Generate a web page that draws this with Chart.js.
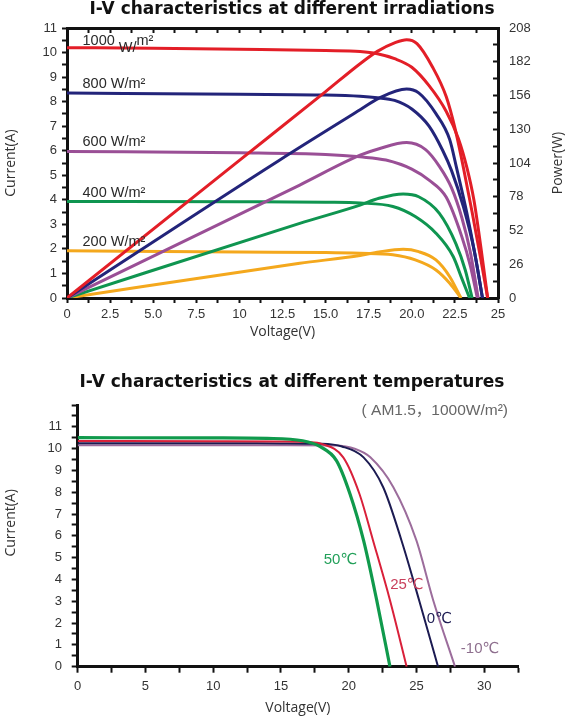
<!DOCTYPE html>
<html>
<head>
<meta charset="utf-8">
<script src="https://cdn.jsdelivr.net/npm/chart.js@4.4.1/dist/chart.umd.min.js"></script>
<style>
  html, body { margin: 0; padding: 0; background: #fff; }
  #wrap { position: relative; width: 567px; height: 720px; }
  .box { position: absolute; left: 0; width: 567px; }
  #irrBox { top: 0; height: 345px; }
  #tempBox { top: 345px; height: 375px; }
</style>
</head>
<body>
<div id="wrap">
  <div class="box" id="irrBox"><canvas id="irrChart" width="567" height="345"></canvas></div>
  <div class="box" id="tempBox"><canvas id="tempChart" width="567" height="375"></canvas></div>
</div>
<script>
// ---- top chart: I-V (A) and P-V (W) at different irradiations ----
const irrLevels = ["1000", "800", "600", "400", "200"];

const ivVolt1000 = [0, 5, 10, 15, 17, 18, 19, 20, 21, 22, 22.7, 23.2, 23.6, 24.0, 24.4];
const ivAmp1000 = [10.2, 10.17, 10.13, 10.08, 10.04, 9.95, 9.75, 9.4, 8.65, 7.6, 6.5, 5.3, 4.0, 2.1, 0];
const pvVolt1000 = [0, 10, 15, 17, 18, 19, 19.7, 20.3, 21.2, 22, 22.5, 23, 23.5, 24, 24.4];
const pvWatt1000 = [0, 106, 159, 180.5, 190, 196.5, 199, 196, 178, 155, 131, 100, 66, 30, 0];

const ivVolt800 = [0, 10, 15, 17, 18, 19, 20, 21, 21.8, 22.3, 23, 23.6, 24.1];
const ivAmp800 = [8.35, 8.3, 8.27, 8.22, 8.16, 8.05, 7.7, 7.0, 6.0, 5.2, 3.7, 2.0, 0];
const pvVolt800 = [0, 12.3, 17, 18.1, 19.7, 20.4, 21.4, 22.2, 22.6, 23.2, 23.7, 24.1];
const pvWatt800 = [0, 106, 145, 154, 161, 158, 142, 122, 100, 65, 31, 0];

const ivVolt600 = [0, 10, 15, 17, 18.5, 20, 21, 22, 22.9, 23.4, 23.8];
const ivAmp600 = [5.97, 5.92, 5.85, 5.75, 5.62, 5.25, 4.8, 4.1, 2.5, 1.3, 0];
const pvVolt600 = [0, 13.5, 17, 18.1, 19.7, 20.8, 21.6, 22.3, 22.9, 23.4, 23.85];
const pvWatt600 = [0, 87, 110, 115, 119.7, 114.3, 101.4, 85, 62, 35, 0];

const ivVolt400 = [0, 10, 15, 17, 18.9, 20.2, 21.4, 22.4, 22.9, 23.35];
const ivAmp400 = [3.93, 3.92, 3.9, 3.87, 3.73, 3.32, 2.64, 1.69, 0.8, 0];
const pvVolt400 = [0, 13.5, 17, 18.1, 19.5, 20.4, 21.6, 22.55, 23.1, 23.5];
const pvWatt400 = [0, 57.5, 71.6, 76.8, 80.1, 78, 65.2, 42.1, 21.6, 0];

const ivVolt200 = [0, 10, 15, 17, 18.9, 20.2, 21.4, 22.2, 22.85];
const ivAmp200 = [1.93, 1.87, 1.85, 1.82, 1.76, 1.55, 1.14, 0.6, 0];
const pvVolt200 = [0, 13.5, 17, 18.1, 19.5, 20.4, 21.4, 22.2, 22.85];
const pvWatt200 = [0, 26.7, 32.8, 35.5, 37.5, 35.7, 29.3, 16.4, 0];

const irrVoltTicks = ["0", "2.5", "5.0", "7.5", "10", "12.5", "15.0", "17.5", "20.0", "22.5", "25"];

// ---- bottom chart: I-V at different temperatures ----
const tempLevels = ["50℃", "25℃", "0℃", "-10℃"];

const tVolt50 = [0, 10, 14, 16.6, 17.9, 19.1, 20.1, 21.1, 22.07, 23.05];
const tAmp50 = [10.5, 10.49, 10.47, 10.36, 10.09, 9.45, 7.92, 5.79, 3.05, 0];

const tVolt25 = [0, 10, 15, 17, 18, 19.6, 20.8, 21.8, 23.05, 24.28];
const tAmp25 = [10.35, 10.34, 10.33, 10.3, 10.22, 9.6, 7.92, 5.79, 3.05, 0];

const tVolt0 = [0, 10, 15, 18, 19.5, 21.1, 22.55, 23.9, 25.2, 26.6];
const tAmp0 = [10.25, 10.25, 10.24, 10.22, 10.1, 9.6, 8.23, 5.79, 3.05, 0];

const tVoltM10 = [0, 10, 15, 19, 20.5, 21.6, 23.3, 25.0, 26.24, 27.85];
const tAmpM10 = [10.15, 10.15, 10.15, 10.14, 9.98, 9.6, 8.23, 5.79, 3.05, 0];

// ---- styling ----
const irrColors = ["#e31e27", "#23247a", "#9a4f96", "#0f9550", "#f4a81d"];
const tempColors = ["#109a4c", "#d9203a", "#1c1b52", "#9c6d9c"];
const tempTextColors = ["#23a05a", "#c9405c", "#1c1b52", "#8e6f8e"];
const ink = "#111";
const tickFont = { family: "'Liberation Sans', Arial, sans-serif", size: 13 };
const axisTitleFont = { family: "'Open Sans', sans-serif", size: 14 };
const headFont = "bold 17px 'DejaVu Sans', sans-serif";

function toPoints(xs, ys) {
  return xs.map((x, i) => ({ x, y: ys[i] }));
}

function isMultiple(value, step) {
  return Math.abs(value / step - Math.round(value / step)) < 1e-6;
}

// the headings sit a little right of the canvas centre in the original
function drawHeading(ctx, text, y) {
  ctx.save();
  ctx.font = headFont;
  ctx.fillStyle = ink;
  ctx.textAlign = "center";
  ctx.textBaseline = "middle";
  ctx.fillText(text, 292, y);
  ctx.restore();
}

// upright axis title reading bottom to top
function drawSideTitle(ctx, text, x, y) {
  ctx.save();
  ctx.fillStyle = "#333";
  ctx.font = "14px 'Open Sans', sans-serif";
  ctx.textAlign = "center";
  ctx.textBaseline = "middle";
  ctx.translate(x, y);
  ctx.rotate(-Math.PI / 2);
  ctx.fillText(text, 0, 0);
  ctx.restore();
}

const ivCurves = [
  [ivVolt1000, ivAmp1000], [ivVolt800, ivAmp800], [ivVolt600, ivAmp600],
  [ivVolt400, ivAmp400], [ivVolt200, ivAmp200],
];
const pvCurves = [
  [pvVolt1000, pvWatt1000], [pvVolt800, pvWatt800], [pvVolt600, pvWatt600],
  [pvVolt400, pvWatt400], [pvVolt200, pvWatt200],
];
const tempCurves = [
  [tVolt50, tAmp50], [tVolt25, tAmp25], [tVolt0, tAmp0], [tVoltM10, tAmpM10],
];

const irrDatasets = [];
irrLevels.forEach((level, i) => {
  irrDatasets.push({
    label: level + " W/m² I-V",
    data: toPoints(ivCurves[i][0], ivCurves[i][1]),
    yAxisID: "y",
    borderColor: irrColors[i],
  });
  irrDatasets.push({
    label: level + " W/m² P-V",
    data: toPoints(pvCurves[i][0], pvCurves[i][1]),
    yAxisID: "y2",
    borderColor: irrColors[i],
  });
});

const tempDatasets = tempLevels.map((level, i) => ({
  label: level,
  data: toPoints(tempCurves[i][0], tempCurves[i][1]),
  borderColor: tempColors[i],
  borderWidth: i === 0 ? 3.2 : 2,
}));

// box-style axis: ticks only, no grid inside the plot
function tickGrid(length) {
  return {
    display: true,
    drawOnChartArea: false,
    drawTicks: true,
    tickLength: length,
    color: ink,
    tickColor: ink,
    tickWidth: 2,
  };
}

const irrDecor = {
  id: "irrDecor",
  afterDraw(chart) {
    const { ctx, chartArea, scales } = chart;
    drawHeading(ctx, "I-V characteristics at different irradiations", 10);
    drawSideTitle(ctx, "Power(W)", 558, (chartArea.top + chartArea.bottom) / 2);

    ctx.save();
    ctx.fillStyle = "#2a2a2a";
    ctx.font = "14.5px 'Liberation Sans', Arial, sans-serif";
    ctx.textAlign = "left";
    ctx.textBaseline = "alphabetic";
    const x0 = scales.x.getPixelForValue(0.9);
    irrLevels.forEach((level, i) => {
      const y = scales.y.getPixelForValue(ivCurves[i][1][0]);
      if (level === "1000") {
        // the original sets this one with a dropped "W/"
        ctx.fillText("1000", x0, y - 3);
        const w1 = ctx.measureText("1000 ").width;
        ctx.fillText("W/", x0 + w1, y + 4);
        const w2 = ctx.measureText("W/").width;
        ctx.fillText("m²", x0 + w1 + w2, y - 3);
      } else {
        ctx.fillText(level + " W/m²", x0, y - 5);
      }
    });
    ctx.restore();
  },
};

new Chart(document.getElementById("irrChart"), {
  type: "line",
  data: { datasets: irrDatasets },
  options: {
    responsive: false,
    animation: false,
    layout: { padding: { top: 28 } },
    elements: {
      point: { radius: 0 },
      line: { borderWidth: 3, cubicInterpolationMode: "monotone", fill: false },
    },
    plugins: {
      legend: { display: false },
      tooltip: { enabled: false },
      title: { display: false },
    },
    scales: {
      x: {
        type: "linear",
        position: "bottom",
        min: 0,
        max: 25,
        grid: tickGrid(5),
        border: { display: true, color: ink, width: 3 },
        ticks: {
          stepSize: 1.25,
          autoSkip: false,
          maxRotation: 0,
          padding: 4,
          font: tickFont,
          color: "#333",
          callback: (v) => (isMultiple(v, 2.5) ? irrVoltTicks[Math.round(v / 2.5)] : ""),
        },
        title: {
          display: true,
          text: "Voltage(V)",
          font: axisTitleFont,
          color: "#333",
          padding: { top: 0, bottom: 4.6 },
        },
        afterFit: (s) => { s.height = 47; },
      },
      xTop: {
        type: "linear",
        position: "top",
        min: 0,
        max: 25,
        grid: tickGrid(-5),
        border: { display: true, color: ink, width: 3 },
        ticks: { display: false, stepSize: 1.25, autoSkip: false },
        afterFit: (s) => { s.height = 0; },
      },
      y: {
        type: "linear",
        position: "left",
        min: 0,
        max: 11,
        grid: tickGrid(5),
        border: { display: true, color: ink, width: 3 },
        ticks: {
          stepSize: 0.5,
          autoSkip: false,
          padding: 5,
          font: tickFont,
          color: "#333",
          callback: (v) => (isMultiple(v, 1) ? String(Math.round(v)) : ""),
        },
        title: {
          display: true,
          text: "Current(A)",
          font: axisTitleFont,
          color: "#333",
          padding: { top: 3, bottom: 0 },
        },
        afterFit: (s) => { s.width = 67; },
      },
      y2: {
        type: "linear",
        position: "right",
        min: 0,
        max: 208,
        grid: tickGrid(-5),
        border: { display: true, color: ink, width: 3 },
        ticks: {
          stepSize: 13,
          autoSkip: false,
          padding: 16,
          font: tickFont,
          color: "#333",
          callback: (v) => (isMultiple(v, 26) ? String(Math.round(v)) : ""),
        },
        afterFit: (s) => { s.width = 69; },
      },
    },
  },
  plugins: [irrDecor],
});

const tempDecor = {
  id: "tempDecor",
  afterDraw(chart) {
    const { ctx, chartArea, scales } = chart;
    drawHeading(ctx, "I-V characteristics at different temperatures", 38);
    // the original puts this title a bit above the axis middle
    drawSideTitle(ctx, "Current(A)", 11, (chartArea.top + chartArea.bottom) / 2 - 13);

    ctx.save();
    ctx.fillStyle = "#666";
    ctx.font = "15.5px 'Liberation Sans', Arial, 'Noto Sans CJK SC', sans-serif";
    ctx.textAlign = "right";
    ctx.textBaseline = "middle";
    ctx.fillText("( AM1.5，1000W/m²)", chartArea.right - 10, chartArea.top + 6);
    ctx.restore();

    // curve names, anchored in volts / amps next to each curve
    const anchorVolt = [19.4, 24.3, 26.7, 29.7];
    const anchorAmp = [4.9, 3.75, 2.2, 0.8];
    ctx.save();
    ctx.font = "15px 'Liberation Sans', Arial, 'DejaVu Sans', sans-serif";
    ctx.textAlign = "center";
    ctx.textBaseline = "middle";
    tempLevels.forEach((level, i) => {
      ctx.fillStyle = tempTextColors[i];
      ctx.fillText(level, scales.x.getPixelForValue(anchorVolt[i]), scales.y.getPixelForValue(anchorAmp[i]));
    });
    ctx.restore();
  },
};

new Chart(document.getElementById("tempChart"), {
  type: "line",
  data: { datasets: tempDatasets },
  options: {
    responsive: false,
    animation: false,
    layout: { padding: { top: 60, right: 49 } },
    elements: {
      point: { radius: 0 },
      line: { cubicInterpolationMode: "monotone", fill: false },
    },
    plugins: {
      legend: { display: false },
      tooltip: { enabled: false },
      title: { display: false },
    },
    scales: {
      x: {
        type: "linear",
        min: 0,
        max: 32.5,
        grid: tickGrid(6),
        border: { display: true, color: ink, width: 3 },
        ticks: {
          stepSize: 2.5,
          autoSkip: false,
          maxRotation: 0,
          padding: 6,
          font: tickFont,
          color: "#333",
          callback: (v) => (isMultiple(v, 5) ? String(Math.round(v)) : ""),
        },
        title: {
          display: true,
          text: "Voltage(V)",
          font: axisTitleFont,
          color: "#333",
          padding: { top: 0, bottom: 3.6 },
        },
        afterFit: (s) => { s.height = 53.3; },
      },
      y: {
        type: "linear",
        min: 0,
        max: 12,
        grid: tickGrid(6),
        border: { display: true, color: ink, width: 3 },
        ticks: {
          stepSize: 0.5,
          autoSkip: false,
          padding: 9.7,
          font: tickFont,
          color: "#333",
          callback: (v) => (isMultiple(v, 1) && v < 12 ? String(Math.round(v)) : ""),
        },
        title: { display: false },
        afterFit: (s) => { s.width = 77.7; },
      },
    },
  },
  plugins: [tempDecor],
});
</script>
</body>
</html>
